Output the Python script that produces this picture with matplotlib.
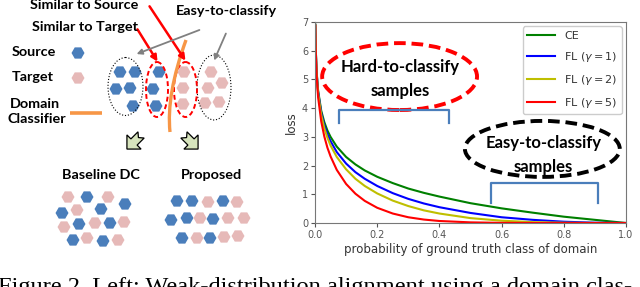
import numpy as np
import matplotlib
matplotlib.use("Agg")
import matplotlib.pyplot as plt
from matplotlib.patches import RegularPolygon, Ellipse, FancyArrowPatch, Polygon, PathPatch
from matplotlib.path import Path

# ---------------- data ----------------
p = [0.001, 0.002, 0.005, 0.01, 0.02, 0.03, 0.04, 0.05, 0.07, 0.1, 0.13, 0.16,
     0.2, 0.25, 0.3, 0.35, 0.4, 0.5, 0.6, 0.7, 0.8, 0.9, 1.0]
loss_ce = [6.91, 6.21, 5.30, 4.61, 3.91, 3.51, 3.22, 3.00, 2.66, 2.30, 2.04, 1.83,
           1.61, 1.39, 1.20, 1.05, 0.92, 0.69, 0.51, 0.36, 0.22, 0.11, 0.0]
loss_fl1 = [6.90, 6.20, 5.27, 4.56, 3.83, 3.40, 3.09, 2.85, 2.47, 2.07, 1.77, 1.54,
            1.29, 1.04, 0.84, 0.68, 0.55, 0.35, 0.20, 0.11, 0.045, 0.011, 0.0]
loss_fl2 = [6.90, 6.19, 5.25, 4.51, 3.76, 3.30, 2.97, 2.70, 2.30, 1.87, 1.54, 1.29,
            1.03, 0.78, 0.59, 0.44, 0.33, 0.17, 0.08, 0.03, 0.01, 0.001, 0.0]
loss_fl5 = [6.87, 6.15, 5.17, 4.38, 3.54, 3.01, 2.62, 2.32, 1.85, 1.36, 1.02, 0.77,
            0.53, 0.33, 0.20, 0.12, 0.07, 0.022, 0.005, 0.001, 0.0, 0.0, 0.0]
series_labels = ["CE", "FL ($\\gamma = 1$)", "FL ($\\gamma = 2$)", "FL ($\\gamma = 5$)"]
series_colors = ["g", "b", "y", "r"]
x_ticks = [0.0, 0.2, 0.4, 0.6, 0.8, 1.0]
y_ticks = [0, 1, 2, 3, 4, 5, 6, 7]

# left illustration: hexagon centres (pixel coords)
cluster_source_easy = [(120, 72), (135, 72), (116, 89), (130, 88), (133, 106)]
cluster_source_hard = [(159, 72), (153, 89), (156, 106)]
cluster_target_hard = [(184, 72), (183, 88), (183, 104)]
cluster_target_easy = [(211, 72), (222, 83), (208, 88), (205, 103), (219, 102)]
baseline_pink = [(68, 197), (108, 197), (77, 210), (64, 227), (95, 223), (124, 222), (87, 238), (118, 240)]
baseline_blue = [(87, 197), (125, 204), (62, 213), (101, 209), (79, 224), (110, 223), (73, 240), (103, 241)]
proposed_blue = [(177, 201), (192, 201), (223, 201), (171, 220), (187, 218), (213, 219), (182, 238), (210, 238)]
proposed_pink = [(208, 202), (237, 202), (200, 218), (228, 218), (244, 218), (197, 238), (224, 237), (238, 236)]

BLUE = "#4a7ebb"
PINK = "#e6b9b8"
FONT = ["Lato", "DejaVu Sans"]

fig = plt.figure(figsize=(6.4, 2.87), dpi=100)

# ---------------- overlay for the illustration ----------------
ov = fig.add_axes([0, 0, 1, 1])
ov.set_xlim(0, 640)
ov.set_ylim(287, 0)
ov.axis("off")


def hexes(pts, color):
    for (x, y) in pts:
        ov.add_patch(RegularPolygon((x, y), 6, radius=6.5, orientation=np.pi / 2,
                                    facecolor=color, edgecolor="none"))


hexes(cluster_source_easy, BLUE)
hexes(cluster_source_hard, BLUE)
hexes(cluster_target_hard, PINK)
hexes(cluster_target_easy, PINK)
hexes(baseline_pink, PINK)
hexes(baseline_blue, BLUE)
hexes(proposed_blue, BLUE)
hexes(proposed_pink, PINK)
hexes([(78, 53)], BLUE)
hexes([(78, 78)], PINK)

# ellipses
ov.add_patch(Ellipse((125.5, 86.5), 35, 58, fill=False, ec="black", lw=0.8, ls=":"))
ov.add_patch(Ellipse((214, 87.5), 34, 65, fill=False, ec="black", lw=0.8, ls=":"))
ov.add_patch(Ellipse((157, 89.5), 22, 55, fill=False, ec="red", lw=1.4, ls=(0, (2.5, 1.5))))
ov.add_patch(Ellipse((185.5, 89.5), 23, 55, fill=False, ec="red", lw=1.4, ls=(0, (2.5, 1.5))))

# domain classifier curve
verts = [(186, 40), (166, 95), (170, 132)]
ov.add_patch(PathPatch(Path(verts, [Path.MOVETO, Path.CURVE3, Path.CURVE3]),
                       fill=False, ec="#f79646", lw=2.4))
ov.plot([70, 102], [113, 113], color="#f79646", lw=2.6, solid_capstyle="butt")

# arrows
for (a, b) in [((136, 27), (159, 64)), ((148, 4), (187, 63))]:
    ov.add_patch(FancyArrowPatch(a, b, arrowstyle="-|>", mutation_scale=9, color="red", lw=1.8))
for (a, b) in [((227, 31), (213, 63)), ((202, 29), (134, 55))]:
    ov.add_patch(FancyArrowPatch(a, b, arrowstyle="-|>", mutation_scale=8, color="#808080", lw=1.3))

# block arrows
base = 1.25 * np.array([(-3.5, -8), (0, -5), (3.5, -8), (3.5, 0), (8, 0), (0, 8), (-8, 0), (-3.5, 0)])
for (cx, cy, th) in [(134, 142, np.pi / 4), (191, 142, -np.pi / 4)]:
    c, s = np.cos(th), np.sin(th)
    pts = np.column_stack([base[:, 0] * c - base[:, 1] * s + cx, base[:, 0] * s + base[:, 1] * c + cy])
    ov.add_patch(Polygon(pts, closed=True, fc="#d7e4bd", ec="black", lw=0.9))

# texts
tkw = dict(family=FONT, fontweight="bold", fontsize=10.4, color="black", va="center")
ov.text(84, 5, "Similar to Source", ha="center", **tkw)
ov.text(85, 27, "Similar to Target", ha="center", **tkw)
ov.text(226, 11, "Easy-to-classify", ha="center", **tkw)
ov.text(12, 52, "Source", ha="left", **tkw)
ov.text(12, 77, "Target", ha="left", **tkw)
ov.text(10, 104, "Domain", ha="left", **tkw)
ov.text(8, 119, "Classifier", ha="left", **tkw)
ov.text(101, 175, "Baseline DC", ha="center", **tkw)
ov.text(211, 175, "Proposed", ha="center", **tkw)

# caption
ov.text(-2, 293, "Figure 2. Left: Weak-distribution alignment using a domain clas-",
        family=["Liberation Serif"], fontsize=17.6, ha="left", va="baseline", color="black")

# ---------------- loss plot ----------------
ax = fig.add_axes([315 / 640, (287 - 223) / 287, 311 / 640, 201 / 287])
for ys, lab, col in zip([loss_ce, loss_fl1, loss_fl2, loss_fl5], series_labels, series_colors):
    ax.plot(p, ys, color=col, lw=1.5, label=lab)
ax.set_xlim(0, 1)
ax.set_ylim(0, 7)
ax.set_xticks(x_ticks)
ax.set_yticks(y_ticks)
ax.set_xticklabels([f"{v:.1f}" for v in x_ticks])
ax.tick_params(labelsize=7, colors="#555555", length=3, width=0.8, pad=2)
for sp in ax.spines.values():
    sp.set_color("#777777")
    sp.set_linewidth(0.8)
ax.set_xlabel("probability of ground truth class of domain", fontsize=8.5, color="#333333", labelpad=2)
ax.set_ylabel("loss", fontsize=8.5, color="#333333", labelpad=3)
leg = ax.legend(loc="upper right", fontsize=8, handlelength=2.5, labelspacing=0.8,
                borderaxespad=0.4, framealpha=1, edgecolor="#cccccc", fancybox=True)
for t in leg.get_texts():
    t.set_color("#333333")

# annotations in data coords
ax.add_patch(Ellipse((0.272, 5.10), 0.498, 2.33, fill=False, ec="red", lw=2.8, ls=(0, (3, 1.5))))
ax.add_patch(Ellipse((0.731, 2.58), 0.498, 1.95, fill=False, ec="black", lw=2.8, ls=(0, (3, 1.5))))
bkw = dict(ha="center", va="center", family=FONT, fontweight="bold", fontsize=12)
ax.text(0.275, 5.45, "Hard-to-classify", **bkw)
ax.text(0.275, 4.60, "samples", **bkw)
ax.text(0.735, 2.80, "Easy-to-classify", **bkw)
ax.text(0.735, 1.95, "samples", **bkw)
ax.plot([0.077, 0.077, 0.431, 0.431], [3.48, 3.93, 3.93, 3.48], color="#4a7ebb", lw=1.6)
ax.plot([0.566, 0.566, 0.910, 0.910], [0.70, 1.39, 1.39, 0.70], color="#4a7ebb", lw=1.6)

fig.savefig("out.png", dpi=100)
